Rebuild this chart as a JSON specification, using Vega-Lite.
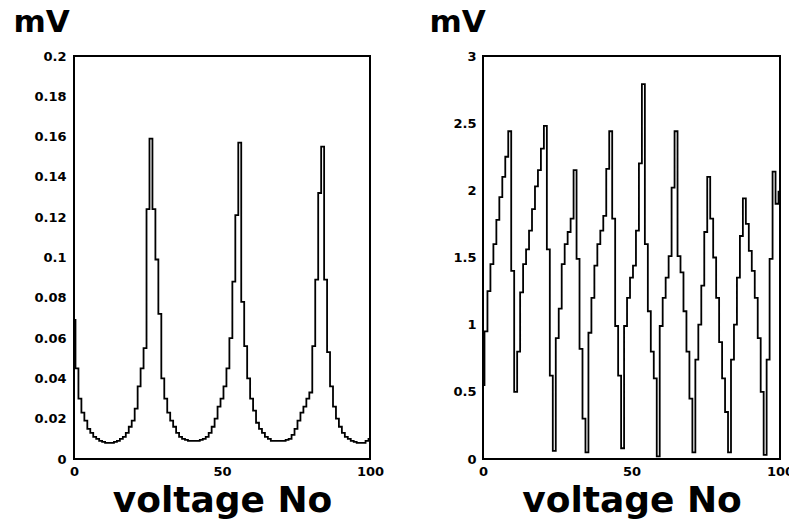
{
  "$schema": "https://vega.github.io/schema/vega-lite/v6.json",
  "background": "white",
  "padding": {"left": 12, "top": 5, "right": 2, "bottom": 2},
  "spacing": 43,
  "config": {
    "font": "DejaVu Sans",
    "view": {"stroke": "black", "strokeWidth": 2},
    "axis": {
      "grid": false,
      "ticks": false,
      "domain": false,
      "labelFont": "DejaVu Sans",
      "labelFontWeight": "bold",
      "labelFontSize": 13,
      "labelColor": "black",
      "labelFlush": false,
      "titleFont": "DejaVu Sans",
      "titleFontWeight": "bold",
      "titleColor": "black"
    }
  },
  "datasets": {
    "left": [
      {"v":0,"mv":0.069},{"v":1,"mv":0.045},{"v":2,"mv":0.030},{"v":3,"mv":0.023},{"v":4,"mv":0.019},
      {"v":5,"mv":0.015},{"v":6,"mv":0.013},{"v":7,"mv":0.011},{"v":8,"mv":0.010},{"v":9,"mv":0.009},
      {"v":10,"mv":0.0085},{"v":11,"mv":0.008},{"v":12,"mv":0.008},{"v":13,"mv":0.008},{"v":14,"mv":0.0085},
      {"v":15,"mv":0.009},{"v":16,"mv":0.010},{"v":17,"mv":0.011},{"v":18,"mv":0.013},{"v":19,"mv":0.016},
      {"v":20,"mv":0.019},{"v":21,"mv":0.025},{"v":22,"mv":0.036},{"v":23,"mv":0.045},{"v":24,"mv":0.055},
      {"v":25,"mv":0.124},{"v":26,"mv":0.159},{"v":27,"mv":0.124},{"v":28,"mv":0.099},{"v":29,"mv":0.072},
      {"v":30,"mv":0.040},{"v":31,"mv":0.030},{"v":32,"mv":0.023},{"v":33,"mv":0.019},{"v":34,"mv":0.016},
      {"v":35,"mv":0.013},{"v":36,"mv":0.011},{"v":37,"mv":0.010},{"v":38,"mv":0.0095},{"v":39,"mv":0.009},
      {"v":40,"mv":0.009},{"v":41,"mv":0.009},{"v":42,"mv":0.009},{"v":43,"mv":0.0095},{"v":44,"mv":0.010},
      {"v":45,"mv":0.011},{"v":46,"mv":0.013},{"v":47,"mv":0.016},{"v":48,"mv":0.020},{"v":49,"mv":0.026},
      {"v":50,"mv":0.030},{"v":51,"mv":0.036},{"v":52,"mv":0.045},{"v":53,"mv":0.060},{"v":54,"mv":0.088},
      {"v":55,"mv":0.121},{"v":56,"mv":0.157},{"v":57,"mv":0.078},{"v":58,"mv":0.056},{"v":59,"mv":0.040},
      {"v":60,"mv":0.030},{"v":61,"mv":0.024},{"v":62,"mv":0.018},{"v":63,"mv":0.015},{"v":64,"mv":0.013},
      {"v":65,"mv":0.011},{"v":66,"mv":0.010},{"v":67,"mv":0.009},{"v":68,"mv":0.009},{"v":69,"mv":0.009},
      {"v":70,"mv":0.009},{"v":71,"mv":0.009},{"v":72,"mv":0.0095},{"v":73,"mv":0.010},{"v":74,"mv":0.012},
      {"v":75,"mv":0.015},{"v":76,"mv":0.019},{"v":77,"mv":0.023},{"v":78,"mv":0.026},{"v":79,"mv":0.030},
      {"v":80,"mv":0.033},{"v":81,"mv":0.056},{"v":82,"mv":0.089},{"v":83,"mv":0.132},{"v":84,"mv":0.155},
      {"v":85,"mv":0.089},{"v":86,"mv":0.053},{"v":87,"mv":0.036},{"v":88,"mv":0.026},{"v":89,"mv":0.020},
      {"v":90,"mv":0.016},{"v":91,"mv":0.013},{"v":92,"mv":0.011},{"v":93,"mv":0.010},{"v":94,"mv":0.009},
      {"v":95,"mv":0.0085},{"v":96,"mv":0.008},{"v":97,"mv":0.008},{"v":98,"mv":0.008},{"v":99,"mv":0.009},
      {"v":100,"mv":0.010}
    ],
    "right": [
      {"v":0,"mv":0.55},{"v":1,"mv":0.95},{"v":2,"mv":1.25},{"v":3,"mv":1.45},{"v":4,"mv":1.6},
      {"v":5,"mv":1.78},{"v":6,"mv":1.95},{"v":7,"mv":2.1},{"v":8,"mv":2.25},{"v":9,"mv":2.44},
      {"v":10,"mv":1.4},{"v":11,"mv":0.5},{"v":12,"mv":0.8},{"v":13,"mv":1.24},{"v":14,"mv":1.45},
      {"v":15,"mv":1.56},{"v":16,"mv":1.7},{"v":17,"mv":1.86},{"v":18,"mv":2.03},{"v":19,"mv":2.15},
      {"v":20,"mv":2.31},{"v":21,"mv":2.48},{"v":22,"mv":1.56},{"v":23,"mv":0.62},{"v":24,"mv":0.06},
      {"v":25,"mv":0.9},{"v":26,"mv":1.12},{"v":27,"mv":1.45},{"v":28,"mv":1.6},{"v":29,"mv":1.69},
      {"v":30,"mv":1.79},{"v":31,"mv":2.15},{"v":32,"mv":1.49},{"v":33,"mv":0.82},{"v":34,"mv":0.3},
      {"v":35,"mv":0.05},{"v":36,"mv":0.94},{"v":37,"mv":1.2},{"v":38,"mv":1.44},{"v":39,"mv":1.6},
      {"v":40,"mv":1.7},{"v":41,"mv":1.81},{"v":42,"mv":2.16},{"v":43,"mv":2.44},{"v":44,"mv":1.79},
      {"v":45,"mv":0.99},{"v":46,"mv":0.62},{"v":47,"mv":0.08},{"v":48,"mv":0.99},{"v":49,"mv":1.2},
      {"v":50,"mv":1.35},{"v":51,"mv":1.44},{"v":52,"mv":1.7},{"v":53,"mv":2.2},{"v":54,"mv":2.79},
      {"v":55,"mv":1.6},{"v":56,"mv":1.1},{"v":57,"mv":0.8},{"v":58,"mv":0.6},{"v":59,"mv":0.02},
      {"v":60,"mv":0.99},{"v":61,"mv":1.2},{"v":62,"mv":1.35},{"v":63,"mv":1.51},{"v":64,"mv":2.02},
      {"v":65,"mv":2.44},{"v":66,"mv":1.51},{"v":67,"mv":1.39},{"v":68,"mv":1.1},{"v":69,"mv":0.8},
      {"v":70,"mv":0.45},{"v":71,"mv":0.05},{"v":72,"mv":0.74},{"v":73,"mv":1.0},{"v":74,"mv":1.29},
      {"v":75,"mv":1.69},{"v":76,"mv":2.1},{"v":77,"mv":1.79},{"v":78,"mv":1.5},{"v":79,"mv":1.2},
      {"v":80,"mv":0.87},{"v":81,"mv":0.6},{"v":82,"mv":0.35},{"v":83,"mv":0.05},{"v":84,"mv":0.74},
      {"v":85,"mv":1.0},{"v":86,"mv":1.35},{"v":87,"mv":1.66},{"v":88,"mv":1.94},{"v":89,"mv":1.75},
      {"v":90,"mv":1.55},{"v":91,"mv":1.4},{"v":92,"mv":1.2},{"v":93,"mv":0.9},{"v":94,"mv":0.5},
      {"v":95,"mv":0.03},{"v":96,"mv":0.74},{"v":97,"mv":1.49},{"v":98,"mv":2.14},{"v":99,"mv":1.9},
      {"v":100,"mv":1.99}
    ]
  },
  "hconcat": [
    {
      "width": 296,
      "height": 403,
      "data": {"name": "left"},
      "mark": {"type": "line", "interpolate": "step", "color": "black", "strokeWidth": 1.8},
      "encoding": {
        "x": {
          "field": "v", "type": "quantitative",
          "scale": {"domain": [0, 100], "nice": false},
          "axis": {"values": [0, 50, 100], "title": "voltage No", "titleFontSize": 36,
                   "titleBaseline": "alphabetic", "titleY": 52, "labelPadding": 6}
        },
        "y": {
          "field": "mv", "type": "quantitative",
          "scale": {"domain": [0, 0.2], "nice": false},
          "axis": {"values": [0, 0.02, 0.04, 0.06, 0.08, 0.1, 0.12, 0.14, 0.16, 0.18, 0.2],
                   "format": "~g", "labelPadding": 8, "title": "mV", "titleAngle": 0,
                   "titleAlign": "left", "titleBaseline": "alphabetic", "titleX": -61, "titleY": -25,
                   "titleFontSize": 31}
        }
      }
    },
    {
      "width": 297,
      "height": 403,
      "data": {"name": "right"},
      "mark": {"type": "line", "interpolate": "step", "color": "black", "strokeWidth": 1.8},
      "encoding": {
        "x": {
          "field": "v", "type": "quantitative",
          "scale": {"domain": [0, 100], "nice": false},
          "axis": {"values": [0, 50, 100], "title": "voltage No", "titleFontSize": 36,
                   "titleBaseline": "alphabetic", "titleY": 52, "labelPadding": 6}
        },
        "y": {
          "field": "mv", "type": "quantitative",
          "scale": {"domain": [0, 3], "nice": false},
          "axis": {"values": [0, 0.5, 1, 1.5, 2, 2.5, 3],
                   "format": "~g", "labelPadding": 7, "title": "mV", "titleAngle": 0,
                   "titleAlign": "left", "titleBaseline": "alphabetic", "titleX": -54, "titleY": -25,
                   "titleFontSize": 31}
        }
      }
    }
  ]
}
